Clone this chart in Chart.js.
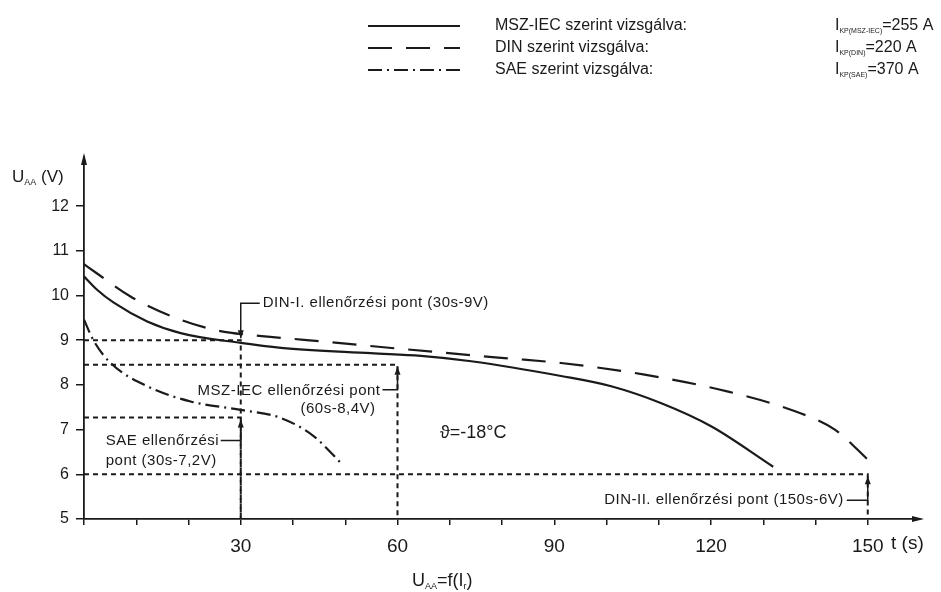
<!DOCTYPE html>
<html>
<head>
<meta charset="utf-8">
<script src="https://cdn.jsdelivr.net/npm/chart.js@4.4.0/dist/chart.umd.min.js"></script>
<style>
html, body { margin: 0; padding: 0; background: #fff; }
</style>
</head>
<body>
<canvas id="myChart" width="941" height="592"></canvas>
<script>
// curves (t in s, U in V)
var mszT = [0, 2.5, 5.7, 12.1, 18.5, 30, 37.7, 54.9, 64.5, 74.1, 91.3, 100.9, 110.5, 120.1, 131.9];
var mszV = [10.43, 10.13, 9.84, 9.42, 9.16, 8.94, 8.83, 8.71, 8.65, 8.53, 8.2, 7.97, 7.59, 7.07, 6.17];
var dinT = [0, 2.3, 8.9, 16.7, 24.7, 34, 42.1, 61.3, 80.5, 91.3, 107.3, 123.3, 136.1, 143.7, 150.1];
var dinV = [10.7, 10.51, 9.98, 9.54, 9.24, 9.09, 9.01, 8.8, 8.6, 8.49, 8.23, 7.85, 7.41, 7.0, 6.32];
var saeT = [0, 1.8, 5.1, 12.1, 20.4, 30, 37.7, 44, 49.2];
var saeV = [9.46, 9.0, 8.49, 7.97, 7.63, 7.44, 7.26, 6.85, 6.25];

// check points (ellenőrzési pontok)
var checkT = [30, 60, 30, 150];
var checkV = [9, 8.45, 7.27, 6];
var checkText = [
    ['DIN-I. ellenőrzési pont (30s-9V)'],
    ['MSZ-IEC ellenőrzési pont', '(60s-8,4V)'],
    ['SAE ellenőrzési', 'pont (30s-7,2V)'],
    ['DIN-II. ellenőrzési pont (150s-6V)']
];

// legend
var seriesNames = ['MSZ-IEC szerint vizsgálva:', 'DIN szerint vizsgálva:', 'SAE szerint vizsgálva:'];
var currentSub = ['KP(MSZ-IEC)', 'KP(DIN)', 'KP(SAE)'];
var currentVal = [255, 220, 370];

// axis ticks
var xTicks = [0, 10, 20, 30, 40, 50, 60, 70, 80, 90, 100, 110, 120, 130, 140, 150];
var xLabels = [30, 60, 90, 120, 150];
var yTicks = [5, 6, 7, 8, 9, 10, 11, 12];

var FONT = '"Liberation Sans", Arial, sans-serif';
var INK = '#1a1a1a';
var styles = [[], [24, 14], [14, 5, 2, 5]];

function pts(ts, vs) {
    return ts.map(function (t, i) { return { x: t, y: vs[i] }; });
}

function curve(ts, vs, dash) {
    return {
        data: pts(ts, vs),
        borderColor: INK,
        borderWidth: 2.2,
        borderDash: dash,
        pointRadius: 0,
        cubicInterpolationMode: 'monotone',
        fill: false
    };
}

var datasets = [
    curve(mszT, mszV, styles[0]),
    curve(dinT, dinV, styles[1]),
    curve(saeT, saeV, styles[2])
];
checkT.forEach(function (t, i) {
    datasets.push({
        data: [{ x: 0, y: checkV[i] }, { x: t, y: checkV[i] }, { x: t, y: 5 }],
        borderColor: INK,
        borderWidth: 2,
        borderDash: [5, 4],
        pointRadius: 0,
        tension: 0,
        fill: false
    });
});

function subText(ctx, x, y, main, sub, rest, size, subSize) {
    ctx.font = size + 'px ' + FONT;
    ctx.fillText(main, x, y);
    x += ctx.measureText(main).width;
    ctx.font = (subSize || Math.round(size * 0.55)) + 'px ' + FONT;
    ctx.fillText(sub, x, y + size * 0.3);
    x += ctx.measureText(sub).width;
    ctx.font = size + 'px ' + FONT;
    ctx.fillText(rest, x, y);
    return x + ctx.measureText(rest).width;
}

// leader from label (hx,hy) across to the point column, then arrow to (px,py)
function leader(ctx, hx, hy, px, py) {
    ctx.setLineDash([]);
    ctx.lineWidth = 1.5;
    ctx.beginPath();
    ctx.moveTo(hx, hy);
    ctx.lineTo(px, hy);
    ctx.lineTo(px, py);
    ctx.stroke();
    var d = py > hy ? -1 : 1;
    ctx.beginPath();
    ctx.moveTo(px, py);
    ctx.lineTo(px - 3, py + d * 8);
    ctx.lineTo(px + 3, py + d * 8);
    ctx.closePath();
    ctx.fill();
}

var extras = {
    id: 'extras',
    afterDraw: function (chart) {
        var ctx = chart.ctx;
        var xs = chart.scales.x, ys = chart.scales.y;
        var a = chart.chartArea;
        ctx.save();
        ctx.fillStyle = INK;
        ctx.strokeStyle = INK;
        ctx.textBaseline = 'middle';

        // axis arrows
        ctx.beginPath();
        ctx.moveTo(a.left, a.top - 4);
        ctx.lineTo(a.left - 3, a.top + 8);
        ctx.lineTo(a.left + 3, a.top + 8);
        ctx.closePath();
        ctx.fill();
        ctx.beginPath();
        ctx.moveTo(a.right + 4, a.bottom);
        ctx.lineTo(a.right - 8, a.bottom - 3);
        ctx.lineTo(a.right - 8, a.bottom + 3);
        ctx.closePath();
        ctx.fill();

        // axis titles
        subText(ctx, 12, 177, 'U', 'AA', ' (V)', 17, 9);
        ctx.font = '19px ' + FONT;
        ctx.textAlign = 'left';
        ctx.fillText('t (s)', 891, 544);
        var e = subText(ctx, 412, 581, 'U', 'AA', '=f(I', 18, 9);
        subText(ctx, e, 581, '', 'r', ')', 18, 9);

        // check point labels
        ctx.font = '15px ' + FONT;
        ctx.letterSpacing = '0.5px';
        var px, py;
        px = xs.getPixelForValue(checkT[0]); py = ys.getPixelForValue(checkV[0]);
        leader(ctx, px + 19, py - 37, px, py - 2);
        ctx.textAlign = 'left';
        ctx.fillText(checkText[0][0], px + 22, py - 37);

        px = xs.getPixelForValue(checkT[1]); py = ys.getPixelForValue(checkV[1]);
        leader(ctx, px - 15, py + 25, px, py + 2);
        ctx.textAlign = 'right';
        ctx.fillText(checkText[1][0], px - 17, py + 26);
        ctx.fillText(checkText[1][1], px - 22, py + 44);

        px = xs.getPixelForValue(checkT[2]); py = ys.getPixelForValue(checkV[2]);
        leader(ctx, px - 20, py + 23, px, py + 2);
        ctx.textAlign = 'left';
        ctx.fillText(checkText[2][0], px - 135, py + 23);
        ctx.fillText(checkText[2][1], px - 135, py + 43);

        px = xs.getPixelForValue(checkT[3]); py = ys.getPixelForValue(checkV[3]);
        leader(ctx, px - 21, py + 26, px, py + 2);
        ctx.textAlign = 'right';
        ctx.fillText(checkText[3][0], px - 24, py + 26);
        ctx.letterSpacing = '0px';

        ctx.textAlign = 'left';
        ctx.font = '18px ' + FONT;
        ctx.fillText('\u03d1=-18\u00b0C', 440, 433);

        // legend
        var rows = [26, 48, 70];
        for (var i = 0; i < 3; i++) {
            ctx.setLineDash(styles[i]);
            ctx.lineWidth = 2.2;
            ctx.beginPath();
            ctx.moveTo(368, rows[i]);
            ctx.lineTo(460, rows[i]);
            ctx.stroke();
            ctx.setLineDash([]);
            ctx.font = '16px ' + FONT;
            ctx.fillText(seriesNames[i], 495, rows[i]);
            subText(ctx, 835, rows[i], 'I', currentSub[i], '=' + currentVal[i] + ' A', 16, 7);
        }
        ctx.restore();
    }
};

var ctx = document.getElementById('myChart').getContext('2d');
var chart = new Chart(ctx, {
    type: 'line',
    data: { datasets: datasets },
    options: {
        responsive: false,
        animation: false,
        layout: { padding: { top: 157, right: 21, left: 0, bottom: 0 } },
        plugins: { legend: { display: false }, tooltip: { enabled: false } },
        scales: {
            x: {
                type: 'linear',
                min: 0,
                max: 160,
                afterBuildTicks: function (s) { s.ticks = xTicks.map(function (v) { return { value: v }; }); },
                afterFit: function (s) { s.height = 73; },
                ticks: {
                    color: INK,
                    font: { size: 19, family: FONT },
                    padding: 10,
                    maxRotation: 0,
                    autoSkip: false,
                    callback: function (v) { return xLabels.indexOf(v) >= 0 ? String(v) : ''; }
                },
                grid: { drawOnChartArea: false, color: INK, tickLength: 6, lineWidth: 1.5 },
                border: { color: INK, width: 1.8 }
            },
            y: {
                min: 5,
                max: 13.1,
                afterBuildTicks: function (s) { s.ticks = yTicks.map(function (v) { return { value: v }; }); },
                afterFit: function (s) { s.width = 84; },
                ticks: { color: INK, font: { size: 16, family: FONT }, padding: 7 },
                grid: { drawOnChartArea: false, color: INK, tickLength: 8, lineWidth: 1.5 },
                border: { color: INK, width: 1.8 }
            }
        }
    },
    plugins: [extras]
});
</script>
</body>
</html>
